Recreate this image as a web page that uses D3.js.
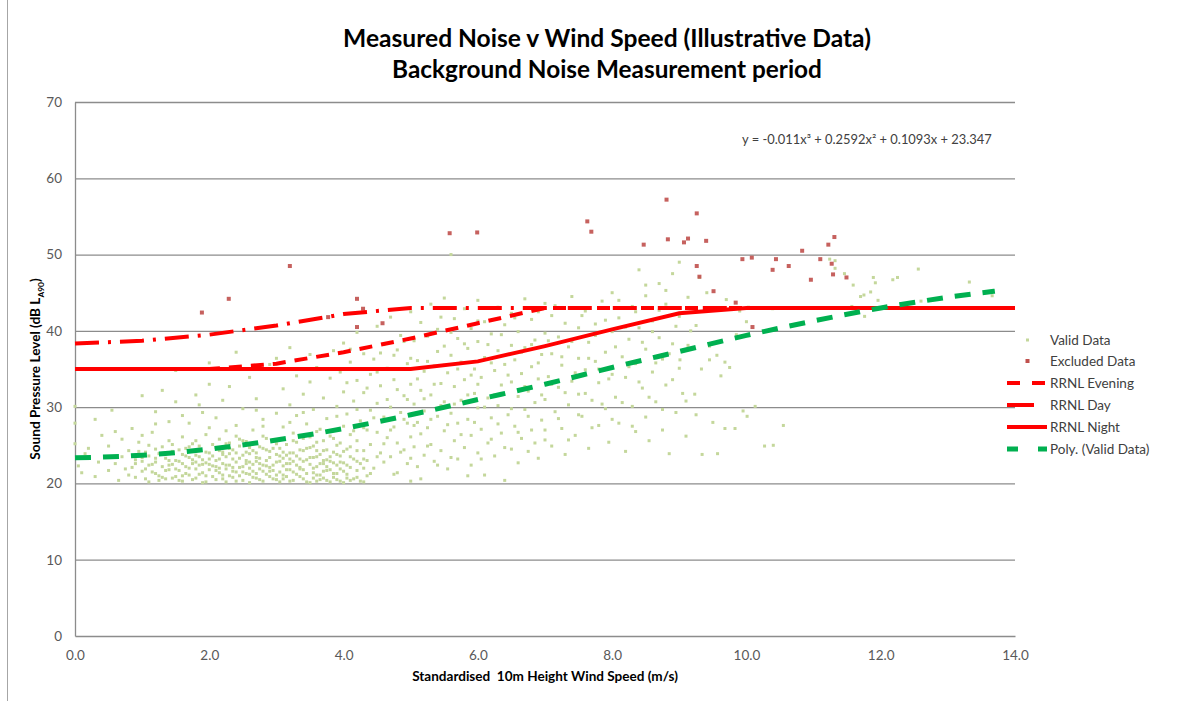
<!DOCTYPE html>
<html><head><meta charset="utf-8">
<script src="https://cdn.jsdelivr.net/npm/d3@7"></script>
<style>body{margin:0;background:#fff;} svg{display:block;font-family:Lato,'Open Sans',sans-serif;}</style>
</head><body><svg id="c" width="1201" height="701"></svg>
<script>
const titleLines=["Measured Noise v Wind Speed (Illustrative Data)","Background Noise Measurement period"];
const equationText="y = -0.011x³ + 0.2592x² + 0.1093x + 23.347";
const xTitle="Standardised  10m Height Wind Speed (m/s)";
const yTicks=[0,10,20,30,40,50,60,70];
const xTicks=[0,2,4,6,8,10,12,14];
const legendNames=["Valid Data","Excluded Data","RRNL Evening","RRNL Day","RRNL Night","Poly. (Valid Data)"];
const windSpeeds=[0,1,2,3,4,5,6,7,8,9,10,11,12,13,14];
const rrnlEvening=[35,35,35,35.7,37.2,39.0,41.0,43,43,43,43,43,43,43,43];
const rrnlDay=[38.35,38.7,39.5,40.7,42.2,43,43,43,43,43,43,43,43,43,43];
const rrnlNight=[35,35,35,35,35,35,36.0,38.0,40.2,42.3,43,43,43,43,43];
const polyX=[0,1,2,3,4,5,6,7,8,9,10,11,12,13,13.7];
const polyY=[23.35,23.7,24.5,25.7,27.2,29.0,31.0,33.0,35.2,37.3,39.4,41.3,43.0,44.4,45.2];
const excludedData=[[1.89,42.4],[2.29,44.2],[3.2,48.5],[3.77,41.8],[4.2,44.2],[4.2,40.5],[4.29,42.9],[4.58,41.0],[5.58,52.8],[5.99,52.9],
[7.63,54.35],[7.69,53.0],[8.47,51.3],[8.81,57.2],[8.83,52.0],[9.07,51.6],[9.13,52.1],[9.26,55.4],[9.40,51.8],[9.26,48.5],[9.30,47.1],[9.51,45.2],[9.84,43.7],[9.94,49.4],[10.08,49.6],[10.09,40.5],[10.39,48.0],[10.44,49.4],[10.63,48.5],[10.83,50.5],[10.96,46.7],[11.10,49.4],[11.22,51.3],[11.31,52.3],[11.27,48.8],[11.29,47.4],[11.49,47.0]];
const validData=[
[0.0,25.2],[0.0,27.9],[0.0,30.1],[0.05,22.3],[0.1,21.4],[0.15,23.9],[0.2,24.6],[0.3,20.9],[0.35,22.8],[0.4,26.3],[0.45,23.4],[0.5,21.7],[0.5,24.9],
[0.55,29.6],[0.6,22.6],[0.65,20.4],[0.7,23.5],[0.7,25.8],[0.75,21.9],[0.8,24.3],[0.85,22.1],[0.85,27.2],[0.9,20.8],[0.9,23.1],[0.95,25.4],[1.0,21.6],[1.0,22.9],[1.0,31.5],
[1.05,24.1],[1.1,20.2],[1.1,22.4],[1.1,23.6],[1.15,26.7],[1.2,21.3],[1.2,22.8],[1.2,29.4],[1.25,23.9],[1.25,21.0],[1.3,22.2],[1.3,24.8],[1.3,32.2],[1.35,20.6],[1.35,23.3],[1.4,21.8],[1.4,25.6],[1.4,28.1],[1.45,22.5],[1.45,24.2],[1.5,20.9],[1.5,23.0],[1.5,30.7],[1.5,34.8],
[1.55,21.7],[1.55,22.9],[1.6,23.8],[1.6,26.1],[1.6,20.3],[1.65,22.2],[1.65,24.6],[1.7,21.1],[1.7,23.4],[1.7,27.9],[1.75,22.6],[1.75,25.2],[1.8,20.7],[1.8,21.9],[1.8,23.7],[1.8,31.6],[1.85,22.4],[1.85,24.9],[1.9,21.4],[1.9,23.1],[1.9,29.3],[1.95,20.2],[1.95,22.7],[1.95,26.4],[2.0,21.8],[2.0,24.0],[2.0,33.0],[2.0,35.8],
[2.05,22.3],[2.05,23.6],[2.1,20.5],[2.1,21.7],[2.1,24.7],[2.1,28.6],[2.15,22.0],[2.15,23.2],[2.15,25.8],[2.2,21.1],[2.2,22.6],[2.2,24.1],[2.2,30.9],[2.25,20.2],[2.25,21.9],[2.25,23.5],[2.25,26.9],[2.3,22.4],[2.3,23.9],[2.3,25.3],[2.3,32.7],[2.35,20.8],[2.35,22.1],[2.35,24.4],[2.4,21.5],[2.4,22.8],[2.4,27.6],[2.4,37.2],[2.45,21.0],[2.45,23.3],[2.45,24.9],[2.5,20.4],[2.5,22.2],[2.5,23.7],[2.5,29.8],
[2.55,21.3],[2.55,22.6],[2.55,25.5],[2.6,20.1],[2.6,22.0],[2.6,23.9],[2.6,33.9],[2.65,21.6],[2.65,24.3],[2.65,27.0],[2.7,20.7],[2.7,22.9],[2.7,23.4],[2.7,31.1],[2.75,21.9],[2.75,24.8],[2.8,20.3],[2.8,22.4],[2.8,26.2],[2.8,28.4],[2.85,21.2],[2.85,23.0],[2.9,22.1],[2.9,24.2],[2.9,35.6],[2.95,20.6],[2.95,21.7],[2.95,25.7],[3.0,22.8],[3.0,23.8],[3.0,29.2],[3.0,36.4],
[3.05,20.2],[3.05,21.5],[3.05,24.6],[3.1,22.3],[3.1,23.3],[3.1,27.4],[3.1,32.4],[3.15,20.9],[3.15,22.6],[3.15,25.1],[3.2,21.8],[3.2,24.0],[3.2,30.3],[3.2,37.8],[3.25,20.4],[3.25,22.9],[3.25,26.6],[3.3,21.2],[3.3,23.6],[3.3,28.9],[3.3,34.1],[3.35,22.1],[3.35,24.4],[3.4,20.6],[3.4,21.8],[3.4,25.9],[3.4,31.7],[3.45,23.1],[3.45,27.8],[3.5,20.1],[3.5,22.5],[3.5,24.7],[3.5,33.3],[3.5,36.9],
[3.55,21.4],[3.55,23.4],[3.55,29.7],[3.6,20.3],[3.6,22.2],[3.6,25.4],[3.6,35.2],[3.65,21.1],[3.65,23.8],[3.65,27.1],[3.7,20.7],[3.7,22.6],[3.7,24.3],[3.7,31.2],[3.75,21.7],[3.75,23.1],[3.75,28.5],[3.8,20.2],[3.8,22.9],[3.8,26.2],[3.8,33.8],[3.85,21.3],[3.85,24.1],[3.85,37.4],[3.9,20.5],[3.9,22.4],[3.9,25.0],[3.9,30.1],[3.95,21.9],[3.95,23.6],[3.95,34.6],[4.0,20.1],[4.0,22.7],[4.0,27.5],[4.0,32.0],[4.0,38.4],
[4.05,21.2],[4.05,24.5],[4.05,29.1],[4.1,20.4],[4.1,22.1],[4.1,26.4],[4.1,35.9],[4.15,23.2],[4.15,30.8],[4.2,20.8],[4.2,21.7],[4.2,25.6],[4.2,33.5],[4.2,39.8],[4.25,22.6],[4.25,28.2],[4.3,20.2],[4.3,24.3],[4.3,31.9],[4.3,37.0],[4.35,23.0],[4.35,27.0],[4.4,25.1],[4.4,29.6],[4.4,34.3],[4.45,22.0],[4.45,36.3],[4.5,26.7],[4.5,30.5],[4.5,40.6],
[4.55,24.0],[4.55,32.8],[4.6,22.8],[4.6,28.7],[4.6,38.2],[4.65,26.0],[4.65,35.1],[4.7,23.5],[4.7,30.0],[4.7,41.8],[4.75,27.4],[4.75,33.6],[4.8,21.4],[4.8,25.3],[4.8,37.5],[4.85,29.3],[4.85,39.4],[4.9,24.4],[4.9,31.5],[4.95,22.6],[4.95,27.9],[4.95,35.7],[5.0,20.3],[5.0,26.1],[5.0,33.0],[5.0,42.5],
[5.05,24.8],[5.05,30.4],[5.05,38.7],[5.1,22.2],[5.1,28.0],[5.1,36.1],[5.15,26.5],[5.15,32.2],[5.15,41.1],[5.2,23.7],[5.2,29.5],[5.2,34.7],[5.25,27.3],[5.25,39.3],[5.3,25.1],[5.3,31.6],[5.3,43.5],[5.35,22.9],[5.35,35.4],[5.4,28.8],[5.4,37.3],[5.4,40.2],[5.45,24.3],[5.45,33.1],[5.5,26.9],[5.5,30.7],[5.5,38.0],[5.5,44.3],
[5.55,21.9],[5.55,34.5],[5.6,29.2],[5.6,36.8],[5.6,50.0],[5.65,25.6],[5.65,32.7],[5.65,41.6],[5.7,23.2],[5.7,27.9],[5.7,39.0],[5.75,30.9],[5.75,35.9],[5.8,24.7],[5.8,33.6],[5.8,42.9],[5.85,28.4],[5.85,37.7],[5.9,22.4],[5.9,26.3],[5.9,40.3],[5.95,31.8],[5.95,35.0],[6.0,24.0],[6.0,29.9],[6.0,38.6],[6.0,44.0],
[6.05,27.1],[6.05,33.9],[6.1,21.1],[6.1,36.5],[6.1,41.2],[6.15,25.3],[6.15,31.2],[6.2,28.6],[6.2,39.6],[6.25,23.6],[6.25,34.8],[6.3,30.2],[6.3,37.4],[6.3,43.1],[6.35,26.6],[6.35,32.9],[6.4,20.4],[6.4,35.6],[6.4,40.8],[6.45,29.0],[6.5,24.5],[6.5,33.3],[6.5,38.1],[6.5,42.3],
[6.55,27.5],[6.55,36.2],[6.6,22.7],[6.6,31.4],[6.6,39.9],[6.65,25.9],[6.65,34.4],[6.7,29.7],[6.7,37.8],[6.7,44.2],[6.75,24.2],[6.75,32.1],[6.8,27.0],[6.8,35.3],[6.8,41.5],[6.85,30.6],[6.85,38.8],[6.9,23.3],[6.9,33.7],[6.95,28.3],[6.95,36.9],[7.0,25.7],[7.0,31.0],[7.0,39.7],[7.0,43.6],
[7.05,34.0],[7.1,24.9],[7.1,37.0],[7.1,42.0],[7.15,29.4],[7.2,32.6],[7.2,39.2],[7.25,27.2],[7.25,35.5],[7.3,23.8],[7.3,41.0],[7.35,30.3],[7.35,37.9],[7.4,33.4],[7.4,44.5],[7.45,26.3],[7.5,31.7],[7.5,36.4],[7.5,40.4],
[7.55,28.8],[7.6,34.9],[7.6,42.6],[7.65,24.6],[7.65,38.5],[7.7,30.9],[7.75,36.0],[7.75,40.9],[7.8,27.6],[7.8,33.2],[7.85,43.9],[7.9,29.8],[7.9,37.2],[7.95,25.4],[8.0,34.3],[8.0,39.9],[8.0,45.0],
[8.05,31.3],[8.1,27.9],[8.1,41.7],[8.15,36.6],[8.2,24.2],[8.2,33.9],[8.25,38.9],[8.3,30.1],[8.3,43.2],[8.35,26.8],[8.35,35.7],[8.4,40.4],[8.4,48.0],[8.45,32.5],[8.5,28.7],[8.5,37.6],[8.5,44.6],
[8.55,25.6],[8.6,34.6],[8.6,41.3],[8.65,30.7],[8.7,39.1],[8.7,46.2],[8.75,27.0],[8.75,36.3],[8.8,32.9],[8.8,43.5],[8.85,23.9],[8.9,38.3],[8.9,47.5],[8.95,29.3],[9.0,35.1],[9.0,41.9],[9.0,49.0],
[9.01,36.2],[9.1,30.8],[9.13,38.1],[9.13,44.4],[9.17,40.0],[9.23,31.7],[9.33,35.0],[9.34,23.8],[9.41,45.0],[9.45,36.2],[9.56,36.8],[9.57,23.9],[9.62,34.1],[9.68,35.9],[9.68,27.2],[9.75,35.2],[9.83,27.2],
[9.05,31.8],[9.1,26.2],[9.25,29.0],[9.25,40.7],[9.3,47.0],[9.4,42.9],[9.45,38.0],[9.5,28.0],[9.7,44.1],[9.85,39.5],[9.9,42.6],[9.95,29.5],[10.0,41.2],
[10.01,28.8],[10.03,43.1],[10.13,30.1],[10.27,24.9],[10.39,42.9],[10.40,25.0],[10.55,27.6],
[11.24,49.4],[11.32,49.2],[11.32,48.2],[11.46,47.5],[11.57,43.2],[11.59,46.0],[11.70,44.5],[11.75,44.7],[11.76,41.9],[11.85,45.1],[11.89,47.0],[11.92,46.3],[11.96,44.0],[12.18,46.7],[12.25,47.0],[12.56,48.1],[12.60,43.9],[12.98,43.0],[13.32,46.4],[13.66,44.6],
[0.8,21.1],[0.9,22.6],[0.95,24.2],[1.05,21.9],[1.15,22.5],[1.2,24.5],[1.25,20.4],[1.35,21.7],[1.4,23.0],[1.45,20.7],[1.55,24.4],[1.6,21.0],[1.65,23.6],[1.7,22.0],[1.75,20.5],[1.8,22.8],[1.85,23.5],[1.9,20.1],[1.95,24.1],[2.0,22.5],[2.05,20.9],[2.05,25.1],[2.1,23.0],[2.15,21.4],[2.2,23.8],[2.25,22.4],[2.3,21.0],[2.3,24.6],[2.35,23.2],[2.4,20.3],[2.4,24.0],[2.45,22.1],[2.5,21.5],[2.5,25.6],[2.55,23.0],[2.6,21.2],[2.6,24.7],[2.65,22.5],[2.7,21.3],[2.7,24.0],[2.75,23.3],[2.75,20.5],[2.8,21.6],[2.8,24.6],[2.85,22.3],[2.85,25.9],[2.9,20.9],[2.9,23.4],[2.95,22.4],[2.95,24.6],[3.0,21.1],[3.0,25.2],[3.05,22.9],[3.1,20.6],[3.1,24.1],[3.15,21.8],[3.15,23.7],[3.2,20.3],[3.2,22.6],[3.25,24.0],[3.25,21.5],[3.3,22.4],[3.3,25.4],[3.35,20.9],[3.35,23.2],[3.4,22.9],[3.4,24.3],[3.45,21.3],[3.45,20.2],[3.5,23.4],[3.5,26.1],[3.55,22.0],[3.55,24.9],[3.6,21.1],[3.6,23.5],[3.65,20.5],[3.65,22.6],[3.7,21.6],[3.7,25.6],[3.75,20.4],[3.75,24.4],[3.8,21.8],[3.8,23.5],[3.85,20.8],[3.85,22.7],[3.9,21.3],[3.9,23.8],[3.95,20.3],[3.95,25.3],[4.0,21.6],[4.0,24.2],[4.05,22.4],[4.1,23.5],[4.15,20.6],[4.2,22.9],[4.25,20.3],[4.3,22.0],[4.35,21.0],
[1.0,23.4],[1.05,20.6],[1.1,25.0],[1.15,21.5],[1.2,23.3],[1.3,20.8],[1.3,23.8],[1.4,22.4],[1.45,25.1],[1.5,21.9],[1.55,20.4],[1.6,22.6],[1.65,21.3],[1.7,24.8],[1.75,23.1],[1.8,25.6],[1.85,21.2],[1.9,22.5],[1.95,21.0],[2.0,23.2],[2.1,22.2],[2.15,24.3],[2.2,20.6],[2.25,25.2],[2.35,21.6],[2.45,25.8],[2.55,24.1],[2.6,22.8],[2.65,20.8],[2.75,22.6],[2.85,24.4],[2.9,21.6],[3.0,20.5],[3.05,23.6],[3.1,21.1],[3.2,23.2],[3.25,25.6],[3.35,21.9],[3.45,24.6],[3.55,20.7],[3.6,24.3],[3.7,23.0],[3.75,22.2],[3.85,25.9],[3.95,22.8],[4.05,20.7],[4.1,24.8],[4.2,24.3],[4.3,23.2],[1.2,27.8],[1.6,28.9],[2.0,27.3],[2.4,26.2],[2.8,27.5],[3.2,28.0],[3.6,26.8],[0.6,26.8],[0.3,28.4],[1.0,26.3],[1.85,30.3],[2.7,29.6],[3.4,29.3],[3.9,28.8],
[4.05,33.2],[4.1,37.6],[4.15,26.9],[4.2,29.7],[4.25,35.0],[4.3,27.3],[4.35,32.5],[4.4,21.3],[4.45,28.6],[4.5,23.5],[4.5,34.6],[4.55,37.1],[4.6,25.2],[4.65,31.0],[4.7,27.0],[4.75,21.2],[4.75,36.8],[4.8,32.3],[4.85,24.1],[4.9,28.4],[4.9,38.6],[4.95,31.0],[5.0,23.3],[5.0,36.4],[5.05,27.6],[5.1,33.7],[5.15,20.6],[5.2,31.1],[5.25,24.9],[5.25,36.0],[5.3,28.4],[5.35,33.0],[5.4,22.4],[5.45,30.2],[5.45,41.8],[5.5,35.5],[5.55,27.7],[5.6,23.4],[5.6,39.8],[5.65,30.4],[5.7,35.0],[5.75,26.4],[5.8,38.3],[5.85,21.0],[5.85,31.6],[5.9,34.2],[5.95,28.0],[6.0,33.0],[6.0,41.3],[6.05,23.2],[6.1,30.0],[6.15,38.2],[6.2,25.8],[6.2,35.8],[6.25,31.6],[6.3,27.8],[6.35,39.5],[6.4,24.7],[6.45,34.2],[6.5,29.8],[6.55,41.7],[6.6,26.7],[6.65,37.2],[6.7,32.7],[6.75,28.8],[6.8,38.2],[6.85,25.3],[6.9,35.8],[6.9,42.5],[6.95,31.6],[7.0,27.0],[7.05,38.7],[7.1,33.0],[7.15,43.3],[7.2,28.5],[7.25,36.6],[7.3,31.9],[7.35,25.7],[7.4,38.6],[7.45,34.5],[7.5,29.0],[7.55,42.0],[7.6,31.8],[7.65,36.4],[7.7,27.3],[7.75,39.4],[7.8,35.0],[7.85,30.4],[7.9,41.4],[7.95,33.7],[8.0,28.4],[8.05,37.9],[8.1,44.0],[8.15,30.6],[8.2,40.5],[8.25,35.3],[8.3,27.5],[8.35,42.5],[8.4,33.3],[8.45,38.5],[8.5,46.0],[8.55,31.3],[8.6,39.9],[8.65,35.8],[8.7,42.7],[8.75,29.7],[8.8,45.3],[8.85,37.0],[8.9,33.6],[8.95,40.6]
];

const svg=d3.select("#c");
const W=1201,H=701;
const x=d3.scaleLinear().domain([0,14]).range([75,1015]);
const y=d3.scaleLinear().domain([0,70]).range([636,102]);
const textCol="#404040", tickCol="#595959", gridCol="#8c8c8c";

svg.append("line").attr("x1",7.5).attr("x2",7.5).attr("y1",0).attr("y2",H).attr("stroke","#a6a6a6").attr("stroke-width",1);

svg.append("g").attr("transform","translate(75,0)")
  .call(d3.axisLeft(y).tickValues(yTicks.filter(d=>d>0)).tickSize(-940).tickFormat(""))
  .call(g=>g.select(".domain").remove())
  .call(g=>g.selectAll("line").attr("stroke",gridCol).attr("stroke-width",1.3));

svg.append("g").attr("transform","translate(75,0)")
  .call(d3.axisLeft(y).tickValues(yTicks).tickSize(0).tickPadding(13).tickFormat(d3.format("d")))
  .call(g=>g.select(".domain").attr("stroke",gridCol).attr("stroke-width",1.3))
  .call(g=>g.selectAll("text").attr("fill",tickCol).attr("font-size",13.5).attr("font-family","Lato, sans-serif"));
svg.append("g").attr("transform","translate(0,636)")
  .call(d3.axisBottom(x).tickValues(xTicks).tickSize(0).tickPadding(14).tickFormat(d3.format(".1f")))
  .call(g=>g.select(".domain").attr("stroke",gridCol).attr("stroke-width",1.3))
  .call(g=>g.selectAll("text").attr("fill",tickCol).attr("font-size",13.5).attr("font-family","Lato, sans-serif"));

svg.append("g").selectAll("rect").data(validData).join("rect")
  .attr("x",d=>x(d[0])-1.5).attr("y",d=>y(d[1])-1.5).attr("width",3).attr("height",3)
  .attr("fill","#c4d79b");
svg.append("g").selectAll("rect").data(excludedData).join("rect")
  .attr("x",d=>x(d[0])-2).attr("y",d=>y(d[1])-2).attr("width",4).attr("height",4)
  .attr("fill","#c0504d").attr("opacity",0.9);

const styles={
  evening:{col:"#ff0000",w:4,dash:"13,9",cap:"butt"},
  day:{col:"#ff0000",w:4,dash:"24,9,3,9",cap:"butt"},
  night:{col:"#ff0000",w:4,dash:null,cap:"butt"},
  poly:{col:"#00b050",w:5,dash:"16,12",cap:"butt"}
};
function drawLine(pts,s,curve){
  const l=d3.line().x(d=>x(d[0])).y(d=>y(d[1])).curve(curve||d3.curveLinear);
  svg.append("path").attr("d",l(pts)).attr("fill","none").attr("stroke",s.col)
    .attr("stroke-width",s.w).attr("stroke-dasharray",s.dash).attr("stroke-linecap",s.cap);
}
drawLine(windSpeeds.map((w,i)=>[w,rrnlEvening[i]]),styles.evening);
drawLine(windSpeeds.map((w,i)=>[w,rrnlDay[i]]),styles.day);
drawLine(windSpeeds.map((w,i)=>[w,rrnlNight[i]]),styles.night);
drawLine(polyX.map((w,i)=>[w,polyY[i]]),styles.poly,d3.curveMonotoneX);

function fitWidth(t,target){const w=t.node().getComputedTextLength();const fs=parseFloat(t.attr("font-size"));t.attr("font-size",fs*target/w);}
const eq=svg.append("text").attr("x",742).attr("y",144).attr("fill",textCol).attr("font-size",12.5).text(equationText);
fitWidth(eq,250);

const t1=svg.append("text").attr("x",607).attr("y",47).attr("text-anchor","middle").attr("font-weight","bold").attr("font-size",22).attr("fill","#000").text(titleLines[0]);
fitWidth(t1,528);
const t2=svg.append("text").attr("x",607).attr("y",78).attr("text-anchor","middle").attr("font-weight","bold").attr("font-size",22).attr("fill","#000").text(titleLines[1]);
fitWidth(t2,430);

const xt=svg.append("text").attr("x",545).attr("y",681).attr("text-anchor","middle").attr("font-weight","bold").attr("font-size",12.5).attr("fill","#000").attr("xml:space","preserve").text(xTitle);
fitWidth(xt,266);
const yt=svg.append("text").attr("transform","translate(40,369) rotate(-90)").attr("text-anchor","middle").attr("font-weight","bold").attr("font-size",13).attr("fill","#000");
yt.append("tspan").text("Sound Pressure Level (dB L");
yt.append("tspan").attr("font-size",8).attr("dy",4).text("A90");
yt.append("tspan").attr("dy",-4).text(")");
{const w=yt.node().getComputedTextLength?yt.node().getBBox().width:182; const k=182/w; yt.attr("font-size",13*k); yt.selectAll("tspan").filter((d,i)=>i===1).attr("font-size",8*k);}

const lg=svg.append("g");
const rows=[340,361,383,405,427,449];
lg.append("rect").attr("x",1026).attr("y",rows[0]-1.5).attr("width",3).attr("height",3).attr("fill","#c4d79b");
lg.append("rect").attr("x",1025.5).attr("y",rows[1]-2).attr("width",4).attr("height",4).attr("fill","#c0504d");
function legLine(yy,s,x1,x2){lg.append("line").attr("x1",x1).attr("x2",x2).attr("y1",yy).attr("y2",yy).attr("stroke",s.col).attr("stroke-width",s.w).attr("stroke-dasharray",s.dash);}
legLine(rows[2],{col:"#ff0000",w:4,dash:"13,12"},1007,1046);
legLine(rows[3],{col:"#ff0000",w:4,dash:null},1007,1034);
legLine(rows[4],{col:"#ff0000",w:4,dash:null},1007,1047);
legLine(rows[5],{col:"#00b050",w:5,dash:"11,20"},1007,1047);
lg.selectAll("text").data(legendNames).join("text").attr("x",1050).attr("y",(d,i)=>rows[i]+4.5)
  .attr("fill",textCol).attr("font-size",13.5).text(d=>d);
</script></body></html>
